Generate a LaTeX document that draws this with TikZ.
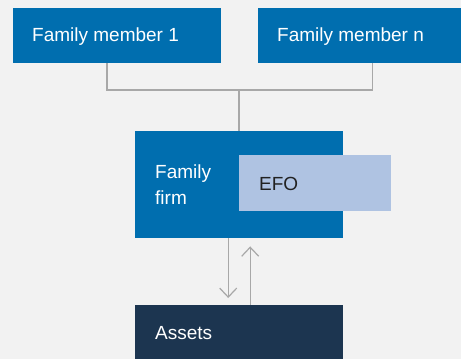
\documentclass[tikz,border=0pt]{standalone}
\usepackage{fontspec}
\setmainfont{Liberation Sans}
\usetikzlibrary{arrows.meta}
\definecolor{bg}{HTML}{F2F2F2}
\definecolor{midblue}{HTML}{006EAF}
\definecolor{lightblue}{HTML}{AFC3E2}
\definecolor{navy}{HTML}{1C3550}
\definecolor{linegray}{HTML}{A8A8A8}
\definecolor{darktext}{HTML}{222222}
\begin{document}
\begin{tikzpicture}[x=1pt,y=-1pt,
  box/.style={fill=midblue, draw=none, minimum height=55pt, anchor=north west, inner sep=0pt},
  lbl/.style={anchor=west, text=white, inner sep=0pt, align=left, font=\fontsize{19}{26}\selectfont},
  conn/.style={draw=linegray, line width=1.2pt},
  arr/.style={draw=linegray, line width=1.2pt, -{Straight Barb[length=9pt,width=17pt]}}]
\useasboundingbox (0,0) rectangle (461,359);
\fill[bg] (0,0) rectangle (461,359);
% boxes
\node[box, minimum width=208pt] (m1) at (13,8) {};
\node[lbl] (m1t) at (32,37) {Family member 1};
\node[box, minimum width=203pt] (mn) at (258,8) {};
\node[lbl] (mnt) at (277,37) {Family member n};
\node[box, minimum width=208pt, minimum height=107pt] (firm) at (135,131) {};
\node[lbl] (firmt) at (155,185) {Family\\firm};
\node[box, fill=lightblue, minimum width=152pt, minimum height=56pt] (efo) at (239,155) {};
\node[lbl, text=darktext] (efot) at (259,184) {EFO};
\node[box, fill=navy, minimum width=208pt, minimum height=54pt] (assets) at (135,305) {};
\node[lbl] (assetst) at (155,333) {Assets};
% connectors
\coordinate (j) at (239,90);
\coordinate (m1c) at ([xshift=94]m1.south west);
\coordinate (mnc) at ([xshift=-89]mn.south east);
\draw[conn] (m1c) |- (j) -| (mnc);
\draw[conn] (j) -- (firm.north west -| j);
\draw[arr, shorten >=7pt] ([xshift=-11]firm.south) -- ([xshift=-11]assets.north);
\draw[arr, shorten >=8pt] ([xshift=11]assets.north) -- ([xshift=11]firm.south);
\end{tikzpicture}
\end{document}
